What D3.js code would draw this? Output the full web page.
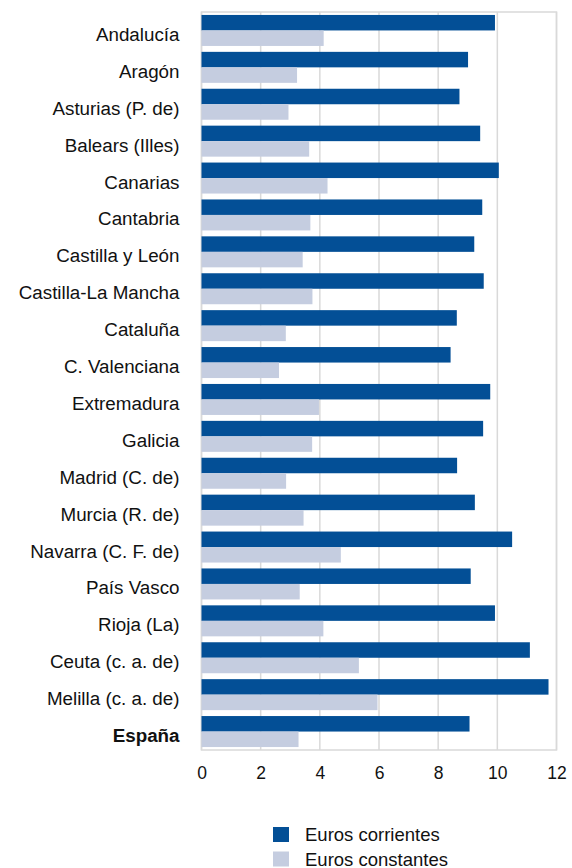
<!DOCTYPE html>
<html>
<head>
<meta charset="utf-8">
<script src="https://cdn.jsdelivr.net/npm/d3@7"></script>
<style>
  html, body { margin: 0; padding: 0; background: #fff; }
  svg { display: block; font-family: "Liberation Sans", Arial, sans-serif; }
</style>
</head>
<body>
<svg id="chart" width="572" height="868"></svg>
<script>
// Regions (comunidades autónomas) and national total
const regions = [
  "Andalucía", "Aragón", "Asturias (P. de)", "Balears (Illes)", "Canarias",
  "Cantabria", "Castilla y León", "Castilla-La Mancha", "Cataluña", "C. Valenciana",
  "Extremadura", "Galicia", "Madrid (C. de)", "Murcia (R. de)", "Navarra (C. F. de)",
  "País Vasco", "Rioja (La)", "Ceuta (c. a. de)", "Melilla (c. a. de)", "España"
];
const eurosCorrientes = [
  9.92, 9.01, 8.72, 9.42, 10.05,
  9.49, 9.22, 9.54, 8.63, 8.42,
  9.76, 9.52, 8.64, 9.24, 10.50,
  9.10, 9.92, 11.10, 11.73, 9.06
];
const eurosConstantes = [
  4.13, 3.23, 2.94, 3.64, 4.26,
  3.68, 3.42, 3.75, 2.85, 2.62,
  3.97, 3.74, 2.86, 3.45, 4.71,
  3.32, 4.12, 5.32, 5.95, 3.28
];
const xTicks = [0, 2, 4, 6, 8, 10, 12];
const seriesNames = ["Euros corrientes", "Euros constantes"];
const seriesColors = ["#034f96", "#c5cde0"];

const svg = d3.select("#chart");
const margin = { left: 201.5, right: 15.5, top: 12, bottom: 118 };
const W = 572, H = 868;
const innerW = W - margin.left - margin.right;
const innerH = H - margin.top - margin.bottom;

const g = svg.append("g").attr("transform", `translate(${margin.left},${margin.top})`);

const x = d3.scaleLinear().domain([0, 12]).range([0, innerW]);
const y = d3.scaleBand().domain(regions).range([0, innerH]).paddingInner(0.16).paddingOuter(0.08);
const ySub = d3.scaleBand().domain([0, 1]).range([0, y.bandwidth()]);

// vertical gridlines
g.append("g")
  .selectAll("line")
  .data(xTicks)
  .join("line")
  .attr("x1", d => x(d)).attr("x2", d => x(d))
  .attr("y1", 0).attr("y2", innerH)
  .attr("stroke", "#d9d9d9")
  .attr("stroke-width", 1.5);

// plot frame
g.append("rect")
  .attr("x", 0).attr("y", 0)
  .attr("width", innerW).attr("height", innerH)
  .attr("fill", "none")
  .attr("stroke", "#d9d9d9")
  .attr("stroke-width", 1.5);

// bars
const rows = regions.map((r, i) => ({ region: r, values: [eurosCorrientes[i], eurosConstantes[i]] }));
const groups = g.append("g").selectAll("g")
  .data(rows)
  .join("g")
  .attr("transform", d => `translate(0,${y(d.region)})`);

groups.selectAll("rect")
  .data(d => d.values.map((v, k) => ({ v, k })))
  .join("rect")
  .attr("x", x(0))
  .attr("y", d => ySub(d.k))
  .attr("width", d => x(d.v) - x(0))
  .attr("height", ySub.bandwidth())
  .attr("fill", d => seriesColors[d.k]);

// category labels
const yAxis = g.append("g")
  .call(d3.axisLeft(y).tickSize(0).tickPadding(22));
yAxis.select(".domain").remove();
yAxis.selectAll("text")
  .attr("font-family", "'Liberation Sans', Arial, sans-serif")
  .attr("font-size", 18.8)
  .attr("dy", "0.56em")
  .attr("fill", "#111")
  .attr("font-weight", d => d === "España" ? "bold" : "normal");

// x axis labels
const xAxis = g.append("g")
  .attr("transform", `translate(0,${innerH})`)
  .call(d3.axisBottom(x).tickValues(xTicks).tickSize(0).tickPadding(17).tickFormat(d3.format("d")));
xAxis.select(".domain").remove();
xAxis.selectAll("text")
  .attr("font-family", "'Liberation Sans', Arial, sans-serif")
  .attr("font-size", 17.5)
  .attr("fill", "#111");

// legend
const legend = svg.append("g").attr("transform", "translate(273,827)");
const items = legend.selectAll("g")
  .data(seriesNames)
  .join("g")
  .attr("transform", (d, i) => `translate(0,${i * 24.5})`);
items.append("rect")
  .attr("width", 16).attr("height", 15)
  .attr("fill", (d, i) => seriesColors[i]);
items.append("text")
  .attr("x", 32).attr("y", 14)
  .attr("font-size", 18.5)
  .attr("fill", "#111")
  .text(d => d);
</script>
</body>
</html>
